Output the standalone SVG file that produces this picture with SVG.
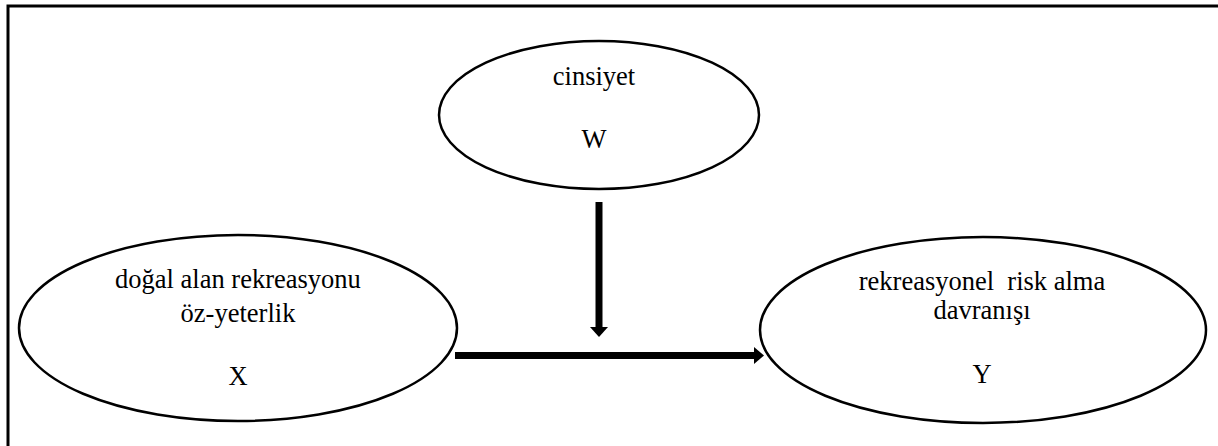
<svg xmlns="http://www.w3.org/2000/svg" width="1218" height="446" viewBox="0 0 1218 446">
<style>
.node ellipse{fill:#fff;stroke:#000;stroke-width:2.5}
.lbl{font-family:"Liberation Serif","Times New Roman",serif;font-size:26.5px;fill:#000;text-anchor:middle}
.conn{stroke:#000;stroke-width:7;fill:none}
.frame{stroke:#000;stroke-width:3;fill:none}
</style>
<g id="frame"><path class="frame" d="M8,446 V6 H1218"/></g>
<g id="node-W" class="node">
<ellipse cx="599" cy="115" rx="160" ry="74"/>
<text class="lbl" x="594" y="85">cinsiyet</text>
<text class="lbl" x="594" y="148">W</text>
</g>
<g id="node-X" class="node">
<ellipse cx="238" cy="328" rx="219" ry="93"/>
<text class="lbl" x="238" y="288">doğal alan rekreasyonu</text>
<text class="lbl" x="238" y="322">öz-yeterlik</text>
<text class="lbl" x="238" y="385">X</text>
</g>
<g id="node-Y" class="node">
<ellipse cx="983" cy="330" rx="223" ry="93"/>
<text class="lbl" x="982" y="290" xml:space="preserve">rekreasyonel  risk alma</text>
<text class="lbl" x="982" y="319">davranışı</text>
<text class="lbl" x="982" y="383">Y</text>
</g>
<g id="connectors">
<line class="conn" x1="599" y1="202" x2="599" y2="329"/>
<polygon points="590,327 608,327 599,337"/>
<line class="conn" x1="455" y1="355.5" x2="756" y2="355.5"/>
<polygon points="754,347 754,364 764,355.5"/>
</g>
</svg>
